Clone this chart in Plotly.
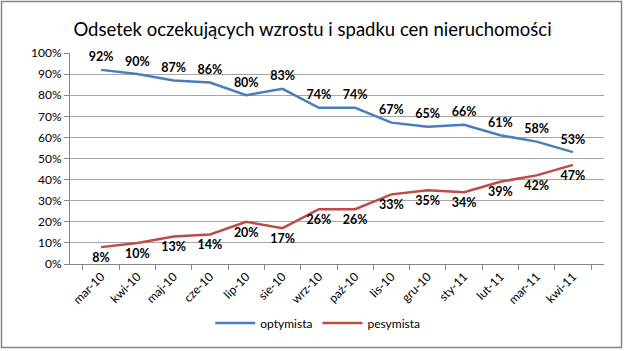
import plotly.graph_objects as go

categories = ["mar-10", "kwi-10", "maj-10", "cze-10", "lip-10", "sie-10", "wrz-10",
              "paź-10", "lis-10", "gru-10", "sty-11", "lut-11", "mar-11", "kwi-11"]
optymista = [92, 90, 87, 86, 80, 83, 74, 74, 67, 65, 66, 61, 58, 53]
pesymista = [8, 10, 13, 14, 20, 17, 26, 26, 33, 35, 34, 39, 42, 47]
y_ticks = list(range(0, 101, 10))

FONT = "Lato"
fig = go.Figure()
for name, vals, color, pos in [("optymista", optymista, "#4A7EBB", "top center"),
                               ("pesymista", pesymista, "#BE4B48", "bottom center")]:
    fig.add_trace(go.Scatter(
        x=categories, y=vals, name=name, mode="lines+markers+text",
        line=dict(color=color, width=2.5),
        marker=dict(size=7, color="rgba(0,0,0,0)", line=dict(width=0)),
        text=[f"{v}%" for v in vals], textposition=pos, cliponaxis=False,
        textfont=dict(family=FONT, size=12.5, color="black", weight="bold"),
    ))

fig.update_layout(
    width=625, height=351,
    margin=dict(l=70, r=21, t=53, b=87),
    paper_bgcolor="white", plot_bgcolor="white",
    font=dict(family=FONT, size=12, color="black"),
    title=dict(text="Odsetek oczekujących wzrostu i spadku cen nieruchomości",
               x=0.5, xanchor="center", y=0.915, yanchor="middle",
               font=dict(family=FONT, size=18.5, color="black")),
    showlegend=True,
    legend=dict(orientation="h", x=0.464, xanchor="center", y=-0.28, yanchor="middle",
                font=dict(family=FONT, size=12), itemwidth=40, traceorder="normal"),
    xaxis=dict(type="category", showgrid=False, showline=True, linecolor="#868686",
               ticks="outside", tickson="boundaries", ticklen=5, tickcolor="#868686",
               tickangle=-45, tickfont=dict(family=FONT, size=12)),
    yaxis=dict(range=[0, 100], tickvals=y_ticks, ticktext=[f"{v}%" for v in y_ticks],
               showgrid=True, gridcolor="#A6A6A6", gridwidth=1,
               showline=True, linecolor="#868686", ticks="outside", ticklen=5,
               tickcolor="#868686", zeroline=False, tickfont=dict(family=FONT, size=12)),
    shapes=[dict(type="rect", xref="paper", yref="paper",
                 x0=(1.5 - 70) / 534, x1=(621.5 - 70) / 534,
                 y0=(264 - 347.5) / 211, y1=(264 - 1.5) / 211,
                 line=dict(color="#868686", width=1.5), fillcolor="rgba(0,0,0,0)",
                 layer="below")],
)
fig.write_html("out.html")
